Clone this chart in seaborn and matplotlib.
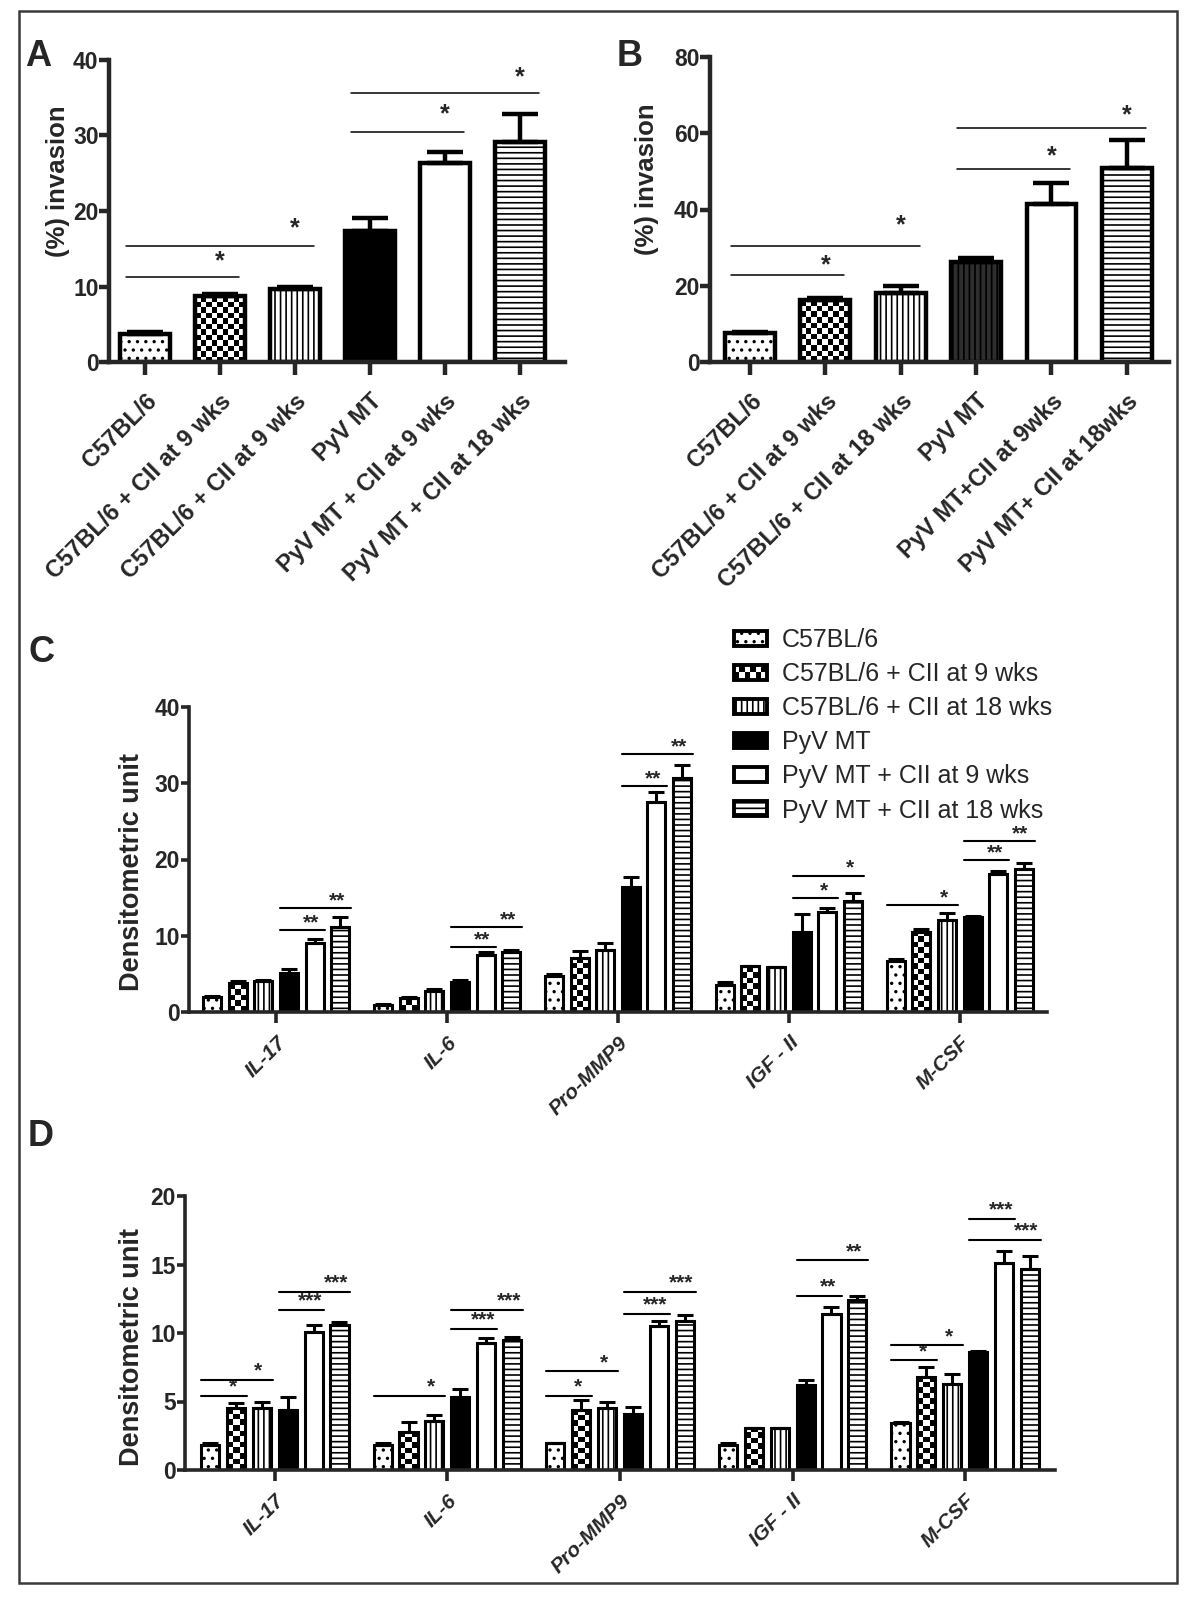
import numpy as np
import pandas as pd
import seaborn as sns
import matplotlib.pyplot as plt
from matplotlib.patches import Patch, Rectangle
from matplotlib.legend_handler import HandlerBase

sns.set_style("ticks")
plt.rcParams['font.family'] = ['Liberation Sans', 'DejaVu Sans']
plt.rcParams['hatch.linewidth'] = 1.2

# ---- panel A : invasion (%) ----
a_labels = ["C57BL/6", "C57BL/6 + CII at 9 wks", "C57BL/6 + CII at 9 wks",
            "PyV MT", "PyV MT + CII at 9 wks", "PyV MT + CII at 18 wks"]
a_values = [3.7, 8.7, 9.7, 17.4, 26.3, 29.2]
a_err = [0.3, 0.3, 0.3, 1.7, 1.5, 3.6]
# (first bar, last bar, line height, star height, label)
a_sig = [(0, 1, 11.3, 13.4, "*"), (0, 2, 15.4, 17.7, "*"),
         (3, 4, 30.4, 32.8, "*"), (3, 5, 35.6, 37.7, "*")]

# ---- panel B : invasion (%) ----
b_labels = ["C57BL/6", "C57BL/6 + CII at 9 wks", "C57BL/6 + CII at 18 wks",
            "PyV MT", "PyV MT+CII at 9wks", "PyV MT+ CII at 18wks"]
b_values = [7.6, 16.2, 18.1, 26.3, 41.5, 50.9]
b_err = [0.3, 0.7, 1.8, 0.9, 5.5, 7.2]
b_sig = [(0, 1, 22.7, 25.3, "*"), (0, 2, 30.4, 35.8, "*"),
         (3, 4, 50.5, 53.9, "*"), (3, 5, 61.3, 64.7, "*")]

# ---- panels C / D : densitometry ----
cytokines = ["IL-17", "IL-6", "Pro-MMP9", "IGF - II", "M-CSF"]
groups = ["C57BL/6", "C57BL/6 + CII at 9 wks", "C57BL/6 + CII at 18 wks",
          "PyV MT", "PyV MT + CII at 9 wks", "PyV MT + CII at 18 wks"]

c_il17 = [2.0, 3.8, 4.1, 5.1, 9.1, 11.1]
c_il6 = [0.9, 1.8, 2.7, 4.0, 7.5, 7.9]
c_mmp9 = [4.7, 7.1, 8.1, 16.4, 27.5, 30.7]
c_igf = [3.6, 6.0, 5.9, 10.5, 13.1, 14.5]
c_mcsf = [6.7, 10.5, 12.1, 12.4, 18.1, 18.8]
c_err_il17 = [0.1, 0.3, 0.1, 0.6, 0.5, 1.3]
c_err_il6 = [0.1, 0.2, 0.3, 0.2, 0.4, 0.2]
c_err_mmp9 = [0.3, 0.9, 0.9, 1.3, 1.3, 1.7]
c_err_igf = [0.4, 0.05, 0.05, 2.4, 0.5, 1.1]
c_err_mcsf = [0.3, 0.4, 0.9, 0.2, 0.4, 0.8]
# (cytokine, first bar, last bar, line height, label)
c_sig = [(0, 3, 4, 10.7, "**"), (0, 3, 5, 13.6, "**"),
         (1, 3, 4, 8.5, "**"), (1, 3, 5, 11.1, "**"),
         (2, 3, 4, 29.6, "**"), (2, 3, 5, 33.8, "**"),
         (3, 3, 4, 14.9, "*"), (3, 3, 5, 17.9, "*"),
         (4, 0, 2, 14.0, "*"), (4, 3, 4, 19.9, "**"), (4, 3, 5, 22.4, "**")]

d_il17 = [1.8, 4.5, 4.5, 4.4, 10.1, 10.6]
d_il6 = [1.8, 2.8, 3.6, 5.3, 9.3, 9.5]
d_mmp9 = [2.0, 4.4, 4.5, 4.1, 10.5, 10.9]
d_igf = [1.8, 3.1, 3.1, 6.2, 11.4, 12.4]
d_mcsf = [3.4, 6.8, 6.3, 8.6, 15.1, 14.7]
d_err_il17 = [0.2, 0.4, 0.5, 0.9, 0.5, 0.2]
d_err_il6 = [0.2, 0.7, 0.4, 0.6, 0.3, 0.2]
d_err_mmp9 = [0.0, 0.7, 0.5, 0.5, 0.4, 0.4]
d_err_igf = [0.2, 0.0, 0.0, 0.4, 0.5, 0.3]
d_err_mcsf = [0.1, 0.7, 0.7, 0.1, 0.9, 0.9]
d_sig = [(0, 0, 1, 5.4, "*"), (0, 0, 2, 6.6, "*"), (0, 3, 4, 11.7, "***"), (0, 3, 5, 13.0, "***"),
         (1, 0, 2, 5.4, "*"), (1, 3, 4, 10.3, "***"), (1, 3, 5, 11.7, "***"),
         (2, 0, 1, 5.4, "*"), (2, 0, 2, 7.2, "*"), (2, 3, 4, 11.4, "***"), (2, 3, 5, 13.0, "***"),
         (3, 3, 4, 12.7, "**"), (3, 3, 5, 15.3, "**"),
         (4, 0, 1, 8.0, "*"), (4, 0, 2, 9.1, "*"), (4, 3, 4, 18.3, "***"), (4, 3, 5, 16.8, "***")]

# bar looks per group (index 1 = checkerboard, drawn separately)
faces = ["white", "white", "white", "black", "white", "white"]
hatches = ["..", None, "|||", None, None, "---"]


def add_checker(ax, patch, cell_px):
    x0, y0 = patch.get_x(), patch.get_y()
    w, h = patch.get_width(), patch.get_height()
    if h <= 0:
        return
    p0 = ax.transData.transform((x0, y0))
    p1 = ax.transData.transform((x0 + w, y0 + h))
    nx = max(2, int(round(abs(p1[0] - p0[0]) / cell_px)))
    ny = max(1, int(round(abs(p1[1] - p0[1]) / cell_px)))
    grid = np.indices((ny, nx)).sum(axis=0) % 2
    im = ax.imshow(grid, extent=(x0, x0 + w, y0, y0 + h), cmap="gray", vmin=0, vmax=1,
                   interpolation="nearest", aspect="auto", origin="lower",
                   zorder=patch.get_zorder() - 0.1)
    im.set_clip_path(patch)


def style_axes(ax, lw, xlen, ylen, fs, xpad):
    sns.despine(ax=ax)
    for s in ["left", "bottom"]:
        ax.spines[s].set_linewidth(lw)
    ax.tick_params(axis="x", width=lw, length=xlen, pad=xpad)
    ax.tick_params(axis="y", width=lw, length=ylen, labelsize=fs, pad=0.5)
    for t in ax.get_yticklabels():
        t.set_fontweight("bold")


def invasion_panel(ax, labels, values, errs, sig, ymax, ystep, pyv_face, pyv_hatch, xlim):
    keys = [f"g{i}" for i in range(len(values))]
    df = pd.DataFrame({"key": keys, "value": values})
    pal = list(faces)
    pal[3] = pyv_face
    sns.barplot(data=df, x="key", y="value", hue="key", palette=pal, legend=False,
                width=0.66, edgecolor="black", linewidth=3.2, errorbar=None,
                saturation=1, ax=ax)
    ax.set_xlim(*xlim)
    ax.set_ylim(0, ymax)
    ax.set_yticks(np.arange(0, ymax + 1, ystep))
    hs = list(hatches)
    hs[3] = pyv_hatch
    conts = list(ax.containers)
    bars = []
    for k, cont in enumerate(conts):
        for p in cont:
            p.set_zorder(2)
            if hs[k]:
                p.set_hatch(hs[k])
            if k == 1:
                p.set_facecolor("none")
            bars.append(p)
    for p in conts[1]:
        add_checker(ax, p, 5.5)
    xs = [p.get_x() + p.get_width() / 2 for p in bars]
    ax.errorbar(xs, values, yerr=[np.zeros(len(errs)), errs], fmt="none", ecolor="black",
                elinewidth=3.2, capsize=13, capthick=3.2, zorder=3)
    for i0, i1, yl, ys, lab in sig:
        x0 = bars[i0].get_x() + 0.08
        x1 = bars[i1].get_x() + bars[i1].get_width() - 0.08
        ax.plot([x0, x1], [yl, yl], color="black", lw=1.1, zorder=3)
        ax.text(xs[i1], ys, lab, ha="center", va="center", fontsize=18, fontweight="bold")
    ax.set_xlim(*xlim)
    ax.set_ylim(0, ymax)
    ax.set_xlabel("")
    ax.set_ylabel("(%) invasion", fontsize=18.5, fontweight="bold")
    style_axes(ax, 3.2, 9, 7, 16.5, 11)
    ax.set_xticks(range(len(labels)))
    ax.set_xticklabels(labels, rotation=45, ha="right", rotation_mode="anchor",
                       fontweight="bold", fontsize=17)


def densit_panel(ax, vals, errs, sig, ymax, ystep, xlim, off):
    rows = []
    for ci, cyt in enumerate(cytokines):
        for gi, g in enumerate(groups):
            rows.append({"cytokine": cyt, "group": g, "value": vals[ci][gi]})
    df = pd.DataFrame(rows)
    sns.barplot(data=df, x="cytokine", y="value", hue="group", hue_order=groups,
                palette=faces, legend=False, width=0.9, gap=0.3, edgecolor="black",
                linewidth=2.2, errorbar=None, saturation=1, ax=ax)
    ax.set_xlim(*xlim)
    ax.set_ylim(0, ymax)
    ax.set_yticks(np.arange(0, ymax + 1, ystep))
    conts = list(ax.containers)
    for k, cont in enumerate(conts):
        for p in cont:
            p.set_zorder(2)
            if hatches[k]:
                p.set_hatch(hatches[k])
            if k == 1:
                p.set_facecolor("none")
    for p in conts[1]:
        add_checker(ax, p, 5.5)
    for k, cont in enumerate(conts):
        xs = [p.get_x() + p.get_width() / 2 for p in cont]
        ys = [vals[ci][k] for ci in range(len(cytokines))]
        es = [errs[ci][k] for ci in range(len(cytokines))]
        ax.errorbar(xs, ys, yerr=[np.zeros(len(es)), es], fmt="none", ecolor="black",
                    elinewidth=2.2, capsize=6, capthick=2.2, zorder=3)
    for ci, i0, i1, yl, lab in sig:
        p0 = conts[i0][ci]
        p1 = conts[i1][ci]
        x0 = p0.get_x()
        x1 = p1.get_x() + p1.get_width() + 0.01
        ax.plot([x0, x1], [yl, yl], color="black", lw=1.5, zorder=3)
        ax.text(p1.get_x() + p1.get_width() / 2 - 0.02, yl + off, lab, ha="center",
                va="center", fontsize=15, fontweight="bold")
    ax.set_xlim(*xlim)
    ax.set_ylim(0, ymax)
    ax.set_xlabel("")
    ax.set_ylabel("Densitometric unit", fontsize=19.5, fontweight="bold")
    style_axes(ax, 2.6, 8, 6, 16.5, 7)
    ax.set_xticks(range(len(cytokines)))
    ax.set_xticklabels(cytokines, rotation=45, ha="right", rotation_mode="anchor",
                       fontweight="bold", fontstyle="italic", fontsize=15)


class CheckerHandler(HandlerBase):
    def create_artists(self, legend, orig_handle, xdescent, ydescent, width, height,
                       fontsize, trans):
        arts = [Rectangle((-xdescent, -ydescent), width, height, facecolor="white",
                          edgecolor="none", transform=trans)]
        n, m = 6, 2
        cw, ch = width / n, height / m
        for i in range(n):
            for j in range(m):
                if (i + j) % 2 == 0:
                    arts.append(Rectangle((-xdescent + i * cw, -ydescent + j * ch), cw, ch,
                                          facecolor="black", edgecolor="none", transform=trans))
        arts.append(Rectangle((-xdescent, -ydescent), width, height, facecolor="none",
                              edgecolor="black", lw=2.8, transform=trans))
        return arts


W, H = 1188, 1597
fig = plt.figure(figsize=(W / 100, H / 100), dpi=100)


def rect(l, r, t, b):
    return [l / W, 1 - b / H, (r - l) / W, (b - t) / H]


ax_a = fig.add_axes(rect(109, 565, 60, 362))
ax_b = fig.add_axes(rect(710, 1169, 57, 362))
ax_c = fig.add_axes(rect(189, 1047, 707, 1012))
ax_d = fig.add_axes(rect(185, 1055, 1196, 1470))

invasion_panel(ax_a, a_labels, a_values, a_err, a_sig, 40, 10, "black", None, (-0.48, 5.6))
invasion_panel(ax_b, b_labels, b_values, b_err, b_sig, 80, 20, "#2e2e2e", "|||", (-0.53, 5.56))
ax_a.yaxis.set_label_coords(-0.085, 0.6)
ax_b.yaxis.set_label_coords(-0.111, 0.6)

c_vals = [c_il17, c_il6, c_mmp9, c_igf, c_mcsf]
c_errs = [c_err_il17, c_err_il6, c_err_mmp9, c_err_igf, c_err_mcsf]
d_vals = [d_il17, d_il6, d_mmp9, d_igf, d_mcsf]
d_errs = [d_err_il17, d_err_il6, d_err_mmp9, d_err_igf, d_err_mcsf]
densit_panel(ax_c, c_vals, c_errs, c_sig, 40, 10, (-0.51, 4.51), 1.0)
densit_panel(ax_d, d_vals, d_errs, d_sig, 20, 5, (-0.52, 4.52), 0.65)
ax_c.yaxis.set_label_coords(-0.051, 0.46)
ax_d.yaxis.set_label_coords(-0.046, 0.45)

# legend for panel C
handles = []
for k, g in enumerate(groups):
    if k == 1:
        handles.append(Patch(facecolor="white", edgecolor="black", label=g))
    else:
        handles.append(Patch(facecolor=faces[k], edgecolor="black", linewidth=2.8,
                             hatch=hatches[k], label=g))
ax_c.legend(handles=handles, loc="upper left", bbox_to_anchor=(734 / W, 1 - 628 / H),
            bbox_transform=fig.transFigure, frameon=False, fontsize=18,
            handlelength=1.3, handleheight=0.56, handletextpad=0.6, labelspacing=0.405,
            borderpad=0, borderaxespad=0, handler_map={handles[1]: CheckerHandler()})

# panel letters
for lab, x, y in [("A", 38, 57), ("B", 630, 57), ("C", 41, 652), ("D", 41, 1136)]:
    fig.text(x / W, 1 - y / H, lab, ha="center", va="center", fontsize=26, fontweight="bold")

# outer frame
fig.add_artist(Rectangle((19 / W, 1 - 1583 / H), (1177 - 19) / W, (1583 - 11) / H,
                         transform=fig.transFigure, fill=False, lw=1.8, edgecolor="#3a3a3a"))

fig.savefig("out.png", dpi=100)
